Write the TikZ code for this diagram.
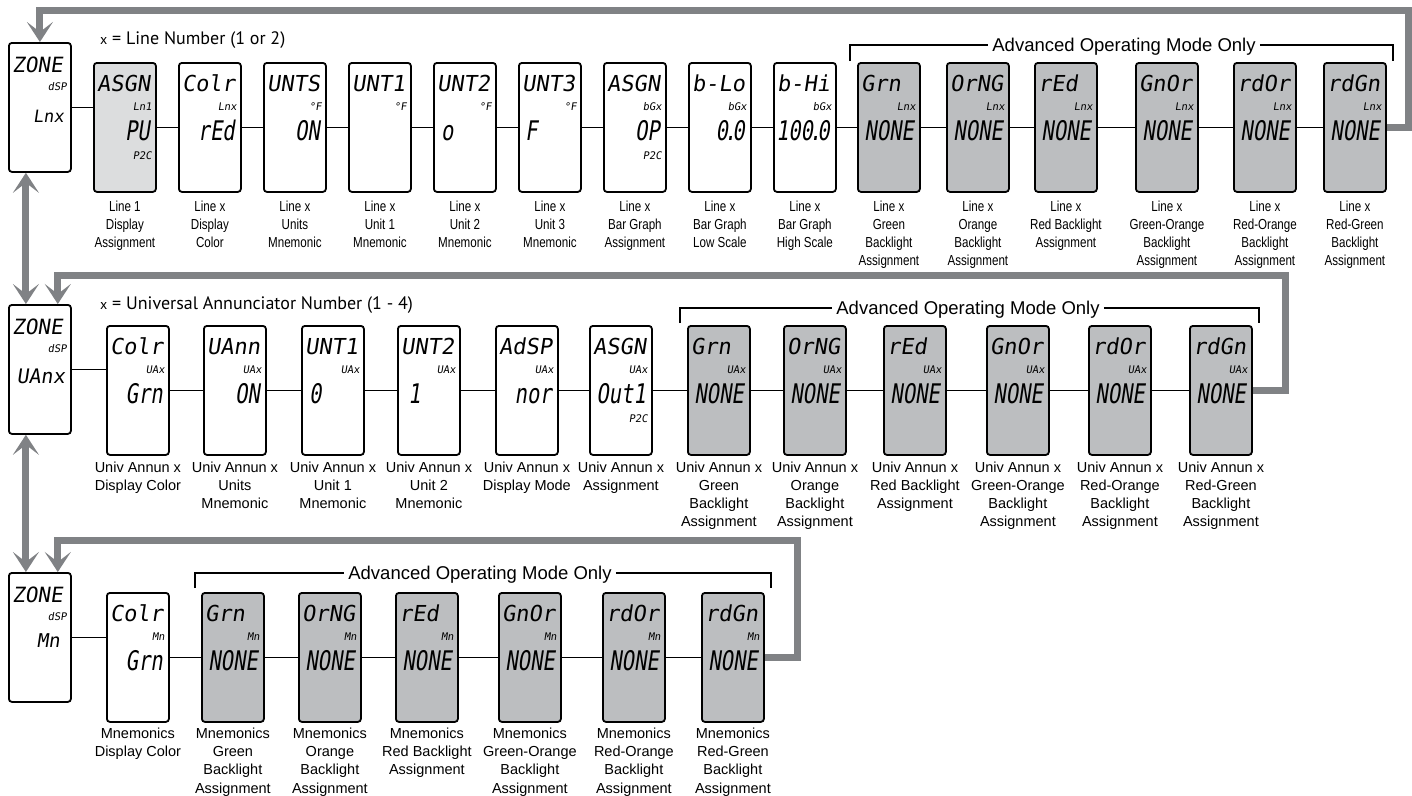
\documentclass[tikz,border=0pt]{standalone}
\usepackage{fontspec}
\setmainfont{Liberation Sans}
\newfontfamily\narrowfont[FakeStretch=0.8]{Liberation Sans}
\newfontfamily\lcdfont[FakeSlant=0.15]{DejaVu Sans Mono}
\newfontfamily\lcdnarrowfont[FakeSlant=0.15,FakeStretch=0.76]{DejaVu Sans Mono}
\newfontfamily\headfont{PT Sans}
\usetikzlibrary{arrows.meta}
\definecolor{arrgray}{HTML}{808285}
\definecolor{lightfill}{HTML}{DCDDDE}
\definecolor{darkfill}{HTML}{BCBEC0}
\tikzset{
  dbox/.style={draw=black, line width=1.8pt, rounded corners=3pt, minimum width=62pt, minimum height=129pt, inner sep=0pt, anchor=north west},
  toptxt/.style={anchor=base west, inner sep=0pt, font=\lcdfont\fontsize{22}{22}\selectfont},
  smalltxt/.style={anchor=base east, inner sep=0pt, font=\lcdfont\fontsize{10.5}{10.5}\selectfont},
  bottxt/.style={anchor=base east, inner sep=0pt, font=\lcdnarrowfont\fontsize{27}{27}\selectfont},
  bottxtl/.style={bottxt, anchor=base west},
  labn/.style={anchor=north, align=center, inner sep=0pt, font=\narrowfont\fontsize{14.5}{18}\selectfont},
  labw/.style={anchor=north, align=center, inner sep=0pt, font=\fontsize{14.5}{18.2}\selectfont},
  conn/.style={draw=black, line width=1.8pt},
  garrow/.style={draw=arrgray, line width=7pt, -{Stealth[length=20pt,width=26pt,inset=10pt]}},
  gdouble/.style={draw=arrgray, line width=7pt, {Stealth[length=20pt,width=26pt,inset=10pt]}-{Stealth[length=20pt,width=26pt,inset=10pt]}},
  adv/.style={font=\fontsize{18.5}{18.5}\selectfont, inner sep=4pt, text height=13.3pt, text depth=0pt},
  bracket/.style={draw=black, line width=1.5pt},
  head/.style={anchor=base west, inner sep=0pt, font=\headfont\fontsize{18}{18}\selectfont},
}
\newcommand\Disp[8]{%
  \node[dbox,fill=#4] (#1) at (#2,#3) {};
  \node[toptxt] (#1t) at ([shift={(4,29)}]#1.north west) {#5};
  \node[smalltxt] (#1s) at ([shift={(59,48)}]#1.north west) {#6};
  \if\relax\detokenize{#7}\relax\else
    \node[bottxt] (#1b) at ([shift={(57,78)}]#1.north west) {#7};
  \fi
  \if\relax\detokenize{#8}\relax\else
    \node[smalltxt] (#1p) at ([shift={(59,97)}]#1.north west) {#8};
  \fi
}
\newcommand\pt{\kern-4pt.\kern-4pt}
\begin{document}
\begin{tikzpicture}[x=1pt,y=-1pt]
\fill[white] (0,0) rectangle (1412,795);
\useasboundingbox (0,0) rectangle (1412,795);

% ---------- zone boxes ----------
\node[dbox,fill=white] (z1) at (8,42) {};
\node[toptxt,font=\lcdfont\fontsize{21}{21}\selectfont] (z1t) at ([shift={(4,30)}]z1.north west) {ZONE};
\node[smalltxt] (z1s) at ([shift={(59,48)}]z1.north west) {dSP};
\node[bottxt,font=\lcdfont\fontsize{17}{17}\selectfont] (z1b) at ([shift={(56,80)}]z1.north west) {Lnx};

\node[dbox,fill=white] (z2) at (8,304) {};
\node[toptxt,font=\lcdfont\fontsize{21}{21}\selectfont] (z2t) at ([shift={(4,30)}]z2.north west) {ZONE};
\node[smalltxt] (z2s) at ([shift={(59,48)}]z2.north west) {dSP};
\node[bottxt,font=\lcdfont\fontsize{20}{20}\selectfont] (z2b) at ([shift={(57,79)}]z2.north west) {UAnx};

\node[dbox,fill=white] (z3) at (8,572) {};
\node[toptxt,font=\lcdfont\fontsize{21}{21}\selectfont] (z3t) at ([shift={(4,30)}]z3.north west) {ZONE};
\node[smalltxt] (z3s) at ([shift={(59,48)}]z3.north west) {dSP};
\node[bottxt,font=\lcdfont\fontsize{19}{19}\selectfont] (z3b) at ([shift={(52,75)}]z3.north west) {Mn};

% ---------- headings ----------
\node[head] (h1) at (100,44) {{\fontsize{14}{14}\selectfont x} = Line Number (1 or 2)};
\node[head] (h2) at (100,309) {{\fontsize{14}{14}\selectfont x} = Universal Annunciator Number (1 - 4)};

% ---------- row 1 ----------
\Disp{r1b1}{93}{62}{lightfill}{ASGN}{Ln1}{PU}{P2C}
\Disp{r1b2}{178}{62}{white}{Colr}{Lnx}{rEd}{}
\Disp{r1b3}{263}{62}{white}{UNTS}{°F}{ON}{}
\Disp{r1b4}{348}{62}{white}{UNT1}{°F}{}{}
\Disp{r1b5}{433}{62}{white}{UNT2}{°F}{}{}
\node[bottxtl] (r1b5b) at ([shift={(8,78)}]r1b5.north west) {o};
\Disp{r1b6}{518}{62}{white}{UNT3}{°F}{}{}
\node[bottxtl] (r1b6b) at ([shift={(7,78)}]r1b6.north west) {F};
\Disp{r1b7}{603}{62}{white}{ASGN}{bGx}{OP}{P2C}
\Disp{r1b8}{688}{62}{white}{b-Lo}{bGx}{0\pt0}{}
\Disp{r1b9}{773}{62}{white}{b-Hi}{bGx}{100\pt0}{}
\Disp{r1b10}{857}{62}{darkfill}{Grn}{Lnx}{NONE}{}
\Disp{r1b11}{946}{62}{darkfill}{OrNG}{Lnx}{NONE}{}
\Disp{r1b12}{1034}{62}{darkfill}{rEd}{Lnx}{NONE}{}
\Disp{r1b13}{1135}{62}{darkfill}{GnOr}{Lnx}{NONE}{}
\Disp{r1b14}{1233}{62}{darkfill}{rdOr}{Lnx}{NONE}{}
\Disp{r1b15}{1323}{62}{darkfill}{rdGn}{Lnx}{NONE}{}

\draw[conn] (z1.east) -- (z1.east -| r1b1.west);
\foreach \a/\b in {1/2,2/3,3/4,4/5,5/6,6/7,7/8,8/9,9/10,10/11,11/12,12/13,13/14,14/15}
  \draw[conn] (r1b\a.east) -- (r1b\b.west);

\node[labn] (r1l1) at ([yshift=-7.5pt]r1b1.south) {Line 1\\Display\\Assignment};
\node[labn] (r1l2) at ([yshift=-7.5pt]r1b2.south) {Line x\\Display\\Color};
\node[labn] (r1l3) at ([yshift=-7.5pt]r1b3.south) {Line x\\Units\\Mnemonic};
\node[labn] (r1l4) at ([yshift=-7.5pt]r1b4.south) {Line x\\Unit 1\\Mnemonic};
\node[labn] (r1l5) at ([yshift=-7.5pt]r1b5.south) {Line x\\Unit 2\\Mnemonic};
\node[labn] (r1l6) at ([yshift=-7.5pt]r1b6.south) {Line x\\Unit 3\\Mnemonic};
\node[labn] (r1l7) at ([yshift=-7.5pt]r1b7.south) {Line x\\Bar Graph\\Assignment};
\node[labn] (r1l8) at ([yshift=-7.5pt]r1b8.south) {Line x\\Bar Graph\\Low Scale};
\node[labn] (r1l9) at ([yshift=-7.5pt]r1b9.south) {Line x\\Bar Graph\\High Scale};
\node[labn] (r1l10) at ([yshift=-7.5pt]r1b10.south) {Line x\\Green\\Backlight\\Assignment};
\node[labn] (r1l11) at ([yshift=-7.5pt]r1b11.south) {Line x\\Orange\\Backlight\\Assignment};
\node[labn] (r1l12) at ([yshift=-7.5pt]r1b12.south) {Line x\\Red Backlight\\Assignment};
\node[labn] (r1l13) at ([yshift=-7.5pt]r1b13.south) {Line x\\Green-Orange\\Backlight\\Assignment};
\node[labn] (r1l14) at ([yshift=-7.5pt]r1b14.south) {Line x\\Red-Orange\\Backlight\\Assignment};
\node[labn] (r1l15) at ([yshift=-7.5pt]r1b15.south) {Line x\\Red-Green\\Backlight\\Assignment};

\node[adv] (adv1) at (1124,45) {Advanced Operating Mode Only};
\draw[bracket] (850,61) |- (adv1.west);
\draw[bracket] (adv1.east) -| (1393,61);

% ---------- row 2 ----------
\Disp{r2b1}{106}{325}{white}{Colr}{UAx}{Grn}{}
\Disp{r2b2}{203}{325}{white}{UAnn}{UAx}{ON}{}
\Disp{r2b3}{301}{325}{white}{UNT1}{UAx}{}{}
\node[bottxtl] (r2b3b) at ([shift={(8,78)}]r2b3.north west) {0};
\Disp{r2b4}{397}{325}{white}{UNT2}{UAx}{}{}
\node[bottxtl] (r2b4b) at ([shift={(11,78)}]r2b4.north west) {1};
\Disp{r2b5}{495}{325}{white}{AdSP}{UAx}{nor}{}
\Disp{r2b6}{589}{325}{white}{ASGN}{UAx}{Out1}{P2C}
\Disp{r2b7}{687}{325}{darkfill}{Grn}{UAx}{NONE}{}
\Disp{r2b8}{783}{325}{darkfill}{OrNG}{UAx}{NONE}{}
\Disp{r2b9}{883}{325}{darkfill}{rEd}{UAx}{NONE}{}
\Disp{r2b10}{986}{325}{darkfill}{GnOr}{UAx}{NONE}{}
\Disp{r2b11}{1088}{325}{darkfill}{rdOr}{UAx}{NONE}{}
\Disp{r2b12}{1189}{325}{darkfill}{rdGn}{UAx}{NONE}{}

\draw[conn] (z2.east) -- (z2.east -| r2b1.west);
\foreach \a/\b in {1/2,2/3,3/4,4/5,5/6,6/7,7/8,8/9,9/10,10/11,11/12}
  \draw[conn] (r2b\a.east) -- (r2b\b.west);

\node[labw] (r2l1) at ([yshift=-5.5pt]r2b1.south) {Univ Annun x\\Display Color};
\node[labw] (r2l2) at ([yshift=-5.5pt]r2b2.south) {Univ Annun x\\Units\\Mnemonic};
\node[labw] (r2l3) at ([yshift=-5.5pt]r2b3.south) {Univ Annun x\\Unit 1\\Mnemonic};
\node[labw] (r2l4) at ([yshift=-5.5pt]r2b4.south) {Univ Annun x\\Unit 2\\Mnemonic};
\node[labw] (r2l5) at ([yshift=-5.5pt]r2b5.south) {Univ Annun x\\Display Mode};
\node[labw] (r2l6) at ([yshift=-5.5pt]r2b6.south) {Univ Annun x\\Assignment};
\node[labw] (r2l7) at ([yshift=-5.5pt]r2b7.south) {Univ Annun x\\Green\\Backlight\\Assignment};
\node[labw] (r2l8) at ([yshift=-5.5pt]r2b8.south) {Univ Annun x\\Orange\\Backlight\\Assignment};
\node[labw] (r2l9) at ([yshift=-5.5pt]r2b9.south) {Univ Annun x\\Red Backlight\\Assignment};
\node[labw] (r2l10) at ([yshift=-5.5pt]r2b10.south) {Univ Annun x\\Green-Orange\\Backlight\\Assignment};
\node[labw] (r2l11) at ([yshift=-5.5pt]r2b11.south) {Univ Annun x\\Red-Orange\\Backlight\\Assignment};
\node[labw] (r2l12) at ([yshift=-5.5pt]r2b12.south) {Univ Annun x\\Red-Green\\Backlight\\Assignment};

\node[adv] (adv2) at (968,308) {Advanced Operating Mode Only};
\draw[bracket] (680,323) |- (adv2.west);
\draw[bracket] (adv2.east) -| (1259,323);

% ---------- row 3 ----------
\Disp{r3b1}{106}{592}{white}{Colr}{Mn}{Grn}{}
\Disp{r3b2}{201}{592}{darkfill}{Grn}{Mn}{NONE}{}
\Disp{r3b3}{298}{592}{darkfill}{OrNG}{Mn}{NONE}{}
\Disp{r3b4}{395}{592}{darkfill}{rEd}{Mn}{NONE}{}
\Disp{r3b5}{498}{592}{darkfill}{GnOr}{Mn}{NONE}{}
\Disp{r3b6}{602}{592}{darkfill}{rdOr}{Mn}{NONE}{}
\Disp{r3b7}{701}{592}{darkfill}{rdGn}{Mn}{NONE}{}

\draw[conn] (z3.east) -- (z3.east -| r3b1.west);
\foreach \a/\b in {1/2,2/3,3/4,4/5,5/6,6/7}
  \draw[conn] (r3b\a.east) -- (r3b\b.west);

\node[labw] (r3l1) at ([yshift=-5pt]r3b1.south) {Mnemonics\\Display Color};
\node[labw] (r3l2) at ([yshift=-5pt]r3b2.south) {Mnemonics\\Green\\Backlight\\Assignment};
\node[labw] (r3l3) at ([yshift=-5pt]r3b3.south) {Mnemonics\\Orange\\Backlight\\Assignment};
\node[labw] (r3l4) at ([yshift=-5pt]r3b4.south) {Mnemonics\\Red Backlight\\Assignment};
\node[labw] (r3l5) at ([yshift=-5pt]r3b5.south) {Mnemonics\\Green-Orange\\Backlight\\Assignment};
\node[labw] (r3l6) at ([yshift=-5pt]r3b6.south) {Mnemonics\\Red-Orange\\Backlight\\Assignment};
\node[labw] (r3l7) at ([yshift=-5pt]r3b7.south) {Mnemonics\\Red-Green\\Backlight\\Assignment};

\node[adv] (adv3) at (480,573) {Advanced Operating Mode Only};
\draw[bracket] (195,588) |- (adv3.west);
\draw[bracket] (adv3.east) -| (771,588);

% ---------- gray return arrows ----------
\draw[garrow] (r1b15.east) -| (1408,10) -| (z1.north);
\draw[garrow] (r2b12.east) -| (1285,275) -| ([xshift=-14pt]z2.north east);
\draw[garrow] (r3b7.east) -| (797,540) -| ([xshift=-14pt]z3.north east);
\draw[gdouble] ([xshift=-14pt]z1.south) -- ([xshift=-14pt]z2.north);
\draw[gdouble] ([xshift=-14pt]z2.south) -- ([xshift=-14pt]z3.north);
\end{tikzpicture}
\end{document}
